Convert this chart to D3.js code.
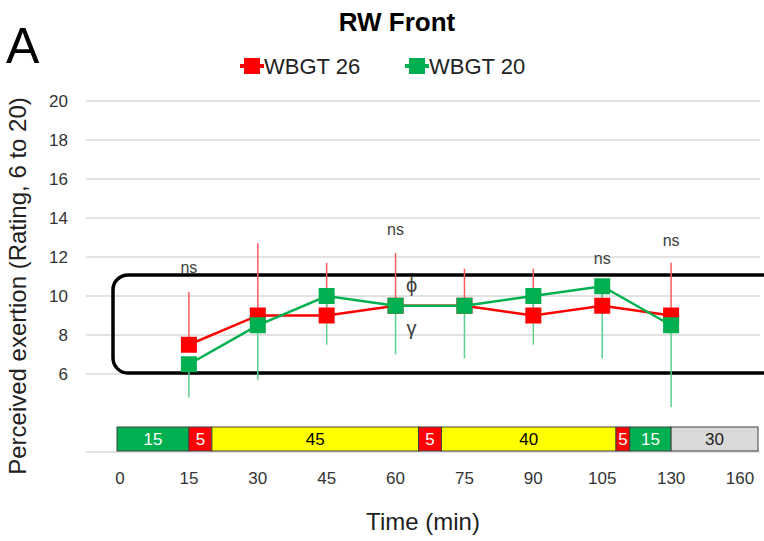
<!DOCTYPE html>
<html>
<head>
<meta charset="utf-8">
<script src="https://cdn.jsdelivr.net/npm/d3@7"></script>
<style>
  body { margin: 0; background: #fff; }
  svg { font-family: "Liberation Sans", Arial, sans-serif; }
</style>
</head>
<body>
<div id="chart"></div>
<script>
"use strict";

// time points on the category axis
const timeTicks = ["0", "15", "30", "45", "60", "75", "90", "105", "130", "160"];
const times = ["15", "30", "45", "60", "75", "90", "105", "130"];

// mean RPE and one-sided error bars
const wbgt26 = [7.5, 9.0, 9.0, 9.5, 9.5, 9.0, 9.5, 9.0];
const wbgt26Err = [2.7, 3.7, 2.7, 2.7, 1.9, 2.4, 1.2, 2.7];   // drawn upward
const wbgt20 = [6.5, 8.5, 10.0, 9.5, 9.5, 10.0, 10.5, 8.5];
const wbgt20Err = [1.7, 2.8, 2.5, 2.5, 2.7, 2.5, 3.7, 4.2];   // drawn downward

const yTicks = [6, 8, 10, 12, 14, 16, 18, 20];

// protocol strip (minutes)
const stripMinutes = [15, 5, 45, 5, 40, 5, 15, 30];
const stripColors = ["#00b050", "#ff0000", "#ffff00", "#ff0000", "#ffff00", "#ff0000", "#00b050", "#d9d9d9"];
const stripTextColors = ["#fff", "#fff", "#000", "#fff", "#000", "#fff", "#fff", "#222"];

// "ns" labels: time, rating level
const nsTimes = ["15", "60", "105", "130"];
const nsLevels = [11.45, 13.35, 11.9, 12.8];

const width = 764, height = 541;

const svg = d3.select("#chart")
  .append("svg")
  .attr("width", width)
  .attr("height", height);

const x = d3.scalePoint()
  .domain(timeTicks)
  .range([120, 740]);

const y = d3.scaleLinear()
  .domain([2, 20])
  .range([452, 101]);

const plotLeft = 86, plotRight = 760;

// grid
svg.append("g")
  .selectAll("line")
  .data([2].concat(yTicks))
  .join("line")
  .attr("x1", plotLeft)
  .attr("x2", plotRight)
  .attr("y1", d => y(d))
  .attr("y2", d => y(d))
  .attr("stroke", "#d9d9d9")
  .attr("stroke-width", 1.5);

// y tick labels
svg.append("g")
  .selectAll("text")
  .data(yTicks)
  .join("text")
  .attr("x", 68)
  .attr("y", d => y(d))
  .attr("dy", "0.35em")
  .attr("text-anchor", "end")
  .style("font-size", "17px")
  .attr("fill", "#333")
  .text(d => d);

// x tick labels
svg.append("g")
  .selectAll("text")
  .data(timeTicks)
  .join("text")
  .attr("x", d => x(d))
  .attr("y", 484)
  .attr("text-anchor", "middle")
  .style("font-size", "17px")
  .attr("fill", "#333")
  .text(d => d);

// protocol strip, placed along the tick positions
const minuteX = d3.scaleLinear()
  .domain(timeTicks.map(Number))
  .range(timeTicks.map(d => x(d)));

let acc = 0;
const strip = stripMinutes.map((m, i) => {
  const s = { start: acc, end: acc + m, label: m, fill: stripColors[i], text: stripTextColors[i] };
  acc += m;
  return s;
});
const stripX = d => d === acc ? plotRight - 2 : minuteX(d) - (d === 0 ? 3 : 0);

const stripG = svg.append("g");
stripG.selectAll("rect")
  .data(strip)
  .join("rect")
  .attr("x", d => stripX(d.start))
  .attr("y", 427)
  .attr("width", d => stripX(d.end) - stripX(d.start))
  .attr("height", 24)
  .attr("fill", d => d.fill)
  .attr("stroke", "#404040")
  .attr("stroke-width", 1);

stripG.selectAll("text")
  .data(strip)
  .join("text")
  .attr("x", d => (stripX(d.start) + stripX(d.end)) / 2)
  .attr("y", 439)
  .attr("dy", "0.36em")
  .attr("text-anchor", "middle")
  .style("font-size", "17px")
  .attr("fill", d => d.text)
  .text(d => d.label);

// highlight box
svg.append("rect")
  .attr("x", 113)
  .attr("y", y(11.08))
  .attr("width", 700)
  .attr("height", y(6.05) - y(11.08))
  .attr("rx", 15)
  .attr("fill", "none")
  .attr("stroke", "#000")
  .attr("stroke-width", 3.5);

// error bars
svg.append("g")
  .selectAll("line")
  .data(times)
  .join("line")
  .attr("x1", d => x(d))
  .attr("x2", d => x(d))
  .attr("y1", (d, i) => y(wbgt26[i]))
  .attr("y2", (d, i) => y(wbgt26[i] + wbgt26Err[i]))
  .attr("stroke", "#ff5a5a")
  .attr("stroke-width", 1.5);

svg.append("g")
  .selectAll("line")
  .data(times)
  .join("line")
  .attr("x1", d => x(d))
  .attr("x2", d => x(d))
  .attr("y1", (d, i) => y(wbgt20[i]))
  .attr("y2", (d, i) => y(wbgt20[i] - wbgt20Err[i]))
  .attr("stroke", "#5ed08c")
  .attr("stroke-width", 1.5);

const series = [
  { name: "WBGT 26", values: wbgt26, color: "#ff0000" },
  { name: "WBGT 20", values: wbgt20, color: "#00b050" }
];

const line = d3.line()
  .x((d, i) => x(times[i]))
  .y(d => y(d));

const ms = 16;
series.forEach(s => {
  svg.append("path")
    .datum(s.values)
    .attr("d", line)
    .attr("fill", "none")
    .attr("stroke", s.color)
    .attr("stroke-width", 2.5);

  svg.append("g")
    .selectAll("rect")
    .data(s.values)
    .join("rect")
    .attr("x", (d, i) => x(times[i]) - ms / 2)
    .attr("y", d => y(d) - ms / 2)
    .attr("width", ms)
    .attr("height", ms)
    .attr("fill", s.color);
});

// annotations
svg.append("g")
  .selectAll("text")
  .data(nsTimes)
  .join("text")
  .attr("x", d => x(d))
  .attr("y", (d, i) => y(nsLevels[i]))
  .attr("dy", "0.3em")
  .attr("text-anchor", "middle")
  .style("font-size", "16px")
  .attr("fill", "#404040")
  .text("ns");

svg.append("text")
  .attr("x", x("60") + 16)
  .attr("y", y(10.55))
  .attr("dy", "0.35em")
  .attr("text-anchor", "middle")
  .style("font-size", "20px")
  .attr("fill", "#404040")
  .text("\u03D5");

svg.append("text")
  .attr("x", x("60") + 16)
  .attr("y", y(8.3))
  .attr("dy", "0.3em")
  .attr("text-anchor", "middle")
  .style("font-size", "20px")
  .attr("fill", "#404040")
  .text("\u03B3");

// title, panel letter, axis titles
svg.append("text")
  .attr("x", 397)
  .attr("y", 31)
  .attr("text-anchor", "middle")
  .style("font-size", "26px")
  .style("font-weight", "bold")
  .text("RW Front");

svg.append("text")
  .attr("x", 6)
  .attr("y", 63)
  .style("font-size", "50px")
  .text("A");

svg.append("text")
  .attr("transform", "translate(26,286) rotate(-90)")
  .attr("text-anchor", "middle")
  .style("font-size", "24px")
  .attr("fill", "#222")
  .text("Perceived exertion (Rating, 6 to 20)");

svg.append("text")
  .attr("x", 423)
  .attr("y", 530)
  .attr("text-anchor", "middle")
  .style("font-size", "24px")
  .attr("fill", "#222")
  .text("Time (min)");

// legend
const legendX = [252, 417];
const legend = svg.append("g")
  .selectAll("g")
  .data(series)
  .join("g")
  .attr("transform", (d, i) => `translate(${legendX[i]},66)`);

legend.append("line")
  .attr("x1", -12)
  .attr("x2", 12)
  .attr("stroke", d => d.color)
  .attr("stroke-width", 4);

legend.append("rect")
  .attr("x", -8)
  .attr("y", -8)
  .attr("width", 16)
  .attr("height", 16)
  .attr("fill", d => d.color);

legend.append("text")
  .attr("x", 12)
  .attr("dy", "0.35em")
  .style("font-size", "22px")
  .attr("fill", "#222")
  .text(d => d.name);
</script>
</body>
</html>
